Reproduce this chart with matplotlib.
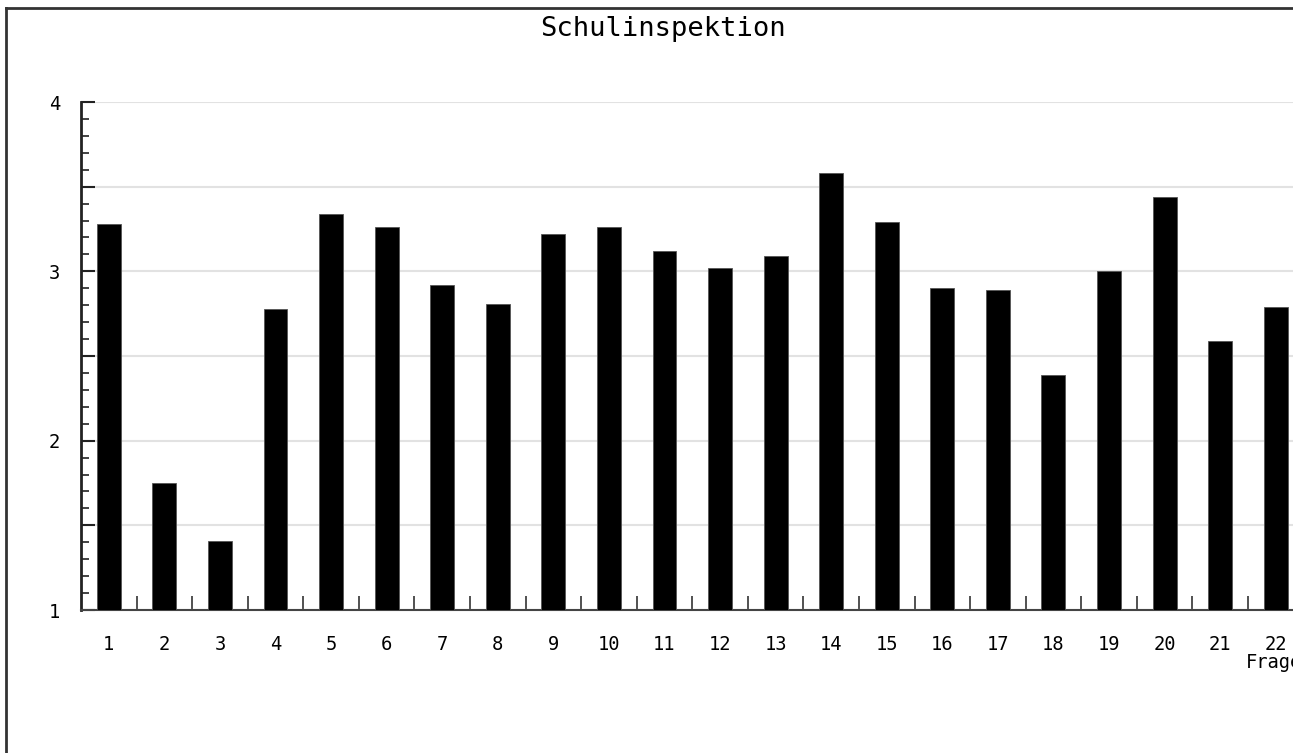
import matplotlib.pyplot as plt
import numpy as np
from matplotlib.lines import Line2D
from matplotlib.patches import Rectangle
from matplotlib.ticker import MultipleLocator

# data
fragen = list(range(1, 23))
werte = [3.28, 1.75, 1.41, 2.78, 3.34, 3.26, 2.92, 2.81, 3.22, 3.26, 3.12,
         3.02, 3.09, 3.58, 3.29, 2.90, 2.89, 2.39, 3.00, 3.44, 2.59, 2.79]
titel = 'Schulinspektion'
x_label = 'Fragen'

W, H = 1301, 753
fig = plt.figure(figsize=(W / 100, H / 100), dpi=100)
mono = 'DejaVu Sans Mono'

# axes spans a bit past the right edge, the picture is cut there
ax = fig.add_axes([81 / W, 143 / H, 1222.5 / W, 508 / H])
ax.bar(fragen, werte, width=0.43, color='black', edgecolor='#555555',
       linewidth=0.6, zorder=3)

ax.set_xlim(0.5, len(fragen) + 0.5)
ax.set_ylim(1, 4)

# y axis: labels at integers, ticks every 0.5 and 0.1
ax.yaxis.set_minor_locator(MultipleLocator(0.1))
ax.set_yticks([1, 1.5, 2, 2.5, 3, 3.5, 4])
ax.set_yticklabels(['1', '', '2', '', '3', '', '4'])
ax.tick_params(axis='y', which='major', direction='in', length=10, width=1.5,
               color='#222222', pad=15, labelsize=13.5)
ax.tick_params(axis='y', which='minor', direction='in', length=6, width=1.2,
               color='#222222')
for lab in ax.get_yticklabels():
    lab.set_family(mono)

# x axis: labels under the bars, ticks between them
ax.set_xticks(fragen)
ax.set_xticklabels([str(f) for f in fragen], family=mono)
ax.set_xticks(np.arange(1.5, len(fragen), 1.0), minor=True)
ax.tick_params(axis='x', which='major', length=0, pad=18, labelsize=13.5)
ax.tick_params(axis='x', which='minor', direction='in', length=10, width=1.2,
               color='#333333')

ax.grid(axis='y', which='major', color='#e2e2e2', linewidth=1.5, zorder=0)
ax.set_axisbelow(True)

for s in ['top', 'right']:
    ax.spines[s].set_visible(False)
ax.spines['left'].set_linewidth(2)
ax.spines['left'].set_color('#222222')
ax.spines['bottom'].set_linewidth(1.5)
ax.spines['bottom'].set_color('#444444')

ax.text(0.953, -43 / 508, x_label, transform=ax.transAxes, family=mono,
        fontsize=13.5, ha='left', va='top', clip_on=False)

fig.text(662.5 / W, 1 - 29 / H, titel, family=mono, fontsize=19.5,
         ha='center', va='center')

# outer frame (left and top edge)
fig.add_artist(Line2D([6 / W, 6 / W], [0, 1 - 8 / H], transform=fig.transFigure,
                      color='#333333', linewidth=2))
fig.add_artist(Line2D([6 / W, 1], [1 - 8 / H, 1 - 8 / H], transform=fig.transFigure,
                      color='#333333', linewidth=2))

# the reference is cut off on the right
fig.add_artist(Rectangle((1293 / W, 0), 1 - 1293 / W, 1, transform=fig.transFigure,
                         facecolor='white', edgecolor='none', zorder=100))

fig.savefig('out.png', dpi=100)
